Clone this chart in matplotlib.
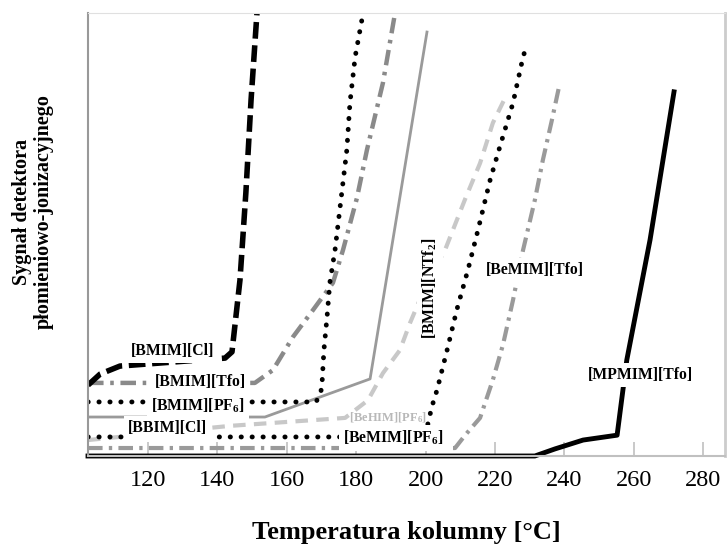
import numpy as np
import matplotlib.pyplot as plt

plt.rcParams['font.family'] = ['Liberation Serif', 'DejaVu Serif']
plt.rcParams['mathtext.fontset'] = 'custom'
plt.rcParams['mathtext.rm'] = 'Liberation Serif:bold'
plt.rcParams['mathtext.it'] = 'Liberation Serif:bold'
plt.rcParams['mathtext.bf'] = 'Liberation Serif:bold'

# ── Data (column temperature [°C] vs FID signal, arbitrary units 0-100) ──────
bmim_cl_t = [102.7, 106.2, 111.9, 142.2, 144.2, 146.5, 148.2, 149.7, 151.4]
bmim_cl_s = [16.0, 18.5, 20.3, 22.1, 23.5, 39.7, 59.4, 80.4, 100.0]

bmim_tfo_t = [102.7, 150.8, 156.0, 161.8, 167.6, 173.3, 176.2, 180.2, 183.1, 187.7, 191.2]
bmim_tfo_s = [16.5, 16.5, 19.4, 26.9, 33.0, 39.1, 46.5, 58.2, 69.1, 84.2, 100.0]

bmim_pf6_t = [102.7, 168.4, 169.6, 170.1, 170.7, 171.6, 172.4, 173.9, 175.6, 177.3, 178.2, 179.7, 182.0]
bmim_pf6_s = [12.2, 12.2, 13.8, 15.6, 23.9, 31.4, 39.1, 46.5, 57.8, 69.1, 79.7, 90.1, 100.0]

bmim_ntf2_t = [102.7, 153.7, 184.0, 200.4]
bmim_ntf2_s = [8.8, 8.8, 17.4, 95.7]

bemim_lt_t = [102.7, 143.6, 176.8, 183.4, 187.7, 192.6, 195.5, 200.4, 205.6, 211.4, 215.7, 219.4, 222.9]
bemim_lt_s = [3.6, 6.8, 8.6, 12.6, 18.7, 23.9, 30.0, 39.1, 46.5, 58.0, 66.1, 75.2, 80.8]

bemim_pf6_t = [102.7, 199.8, 201.8, 203.3, 206.2, 209.0, 212.2, 215.1, 218.6, 221.4, 225.2, 228.1, 229.2]
bemim_pf6_s = [4.3, 4.3, 11.1, 14.9, 23.9, 33.0, 42.0, 51.0, 62.3, 69.8, 79.7, 90.1, 92.8]

bemim_tfo_t = [102.7, 208.5, 211.4, 215.7, 219.4, 222.3, 225.2, 228.1, 231.5, 233.8, 236.4, 238.7]
bemim_tfo_s = [1.8, 1.8, 4.7, 8.6, 17.2, 25.1, 35.2, 46.5, 57.8, 66.8, 75.8, 84.2]

mpmim_tfo_t = [102.7, 231.5, 237.3, 245.4, 255.2, 258.0, 264.7, 271.6]
mpmim_tfo_s = [0.0, 0.0, 1.6, 3.6, 4.7, 21.7, 48.8, 82.2]

x_ticks = [120, 140, 160, 180, 200, 220, 240, 260, 280]

labels = ["[BMIM][Cl]", "[BMIM][Tfo]", "[BMIM][PF$_6$]", "[BBIM][Cl]",
          "[BeMIM][PF$_6$]", "[BMIM][NTf$_2$]", "[BeMIM][Tfo]", "[MPMIM][Tfo]"]
label_t = [127.2, 135.0, 134.4, 125.5, 190.6, 201.3, 231.5, 261.8]
label_s = [23.7, 16.7, 11.3, 6.3, 4.1, 37.9, 42.0, 18.3]
label_rot = [0, 0, 0, 0, 0, 90, 0, 0]

# ── Plot ─────────────────────────────────────────────────────────────────────
fig = plt.figure(figsize=(7.28, 5.44), dpi=100)
ax = fig.add_axes([88 / 728, 88 / 544, 637 / 728, 443 / 544])

DOT = (0, (0.05, 2.2))
DASHDOT = (0, (3.5, 1.5, 0.8, 1.5))
ax.plot(bemim_tfo_t, bemim_tfo_s, color="#9a9a9a", lw=3, ls=DASHDOT)
ax.plot(bemim_lt_t, bemim_lt_s, color="#c8c8c8", lw=3, ls=(0, (3, 2)))
ax.plot(bmim_ntf2_t, bmim_ntf2_s, color="#9a9a9a", lw=2)
ax.plot(bmim_tfo_t, bmim_tfo_s, color="#8a8a8a", lw=3.2, ls=DASHDOT)
ax.plot(bmim_pf6_t, bmim_pf6_s, color="black", lw=3.5, ls=DOT, dash_capstyle="round")
ax.plot(bemim_pf6_t, bemim_pf6_s, color="black", lw=3.5, ls=DOT, dash_capstyle="round")
ax.plot(bmim_cl_t, bmim_cl_s, color="black", lw=4, ls=(0, (3, 1.2)))
ax.plot(mpmim_tfo_t, mpmim_tfo_s, color="black", lw=3.5, clip_on=False)

# faded leftover label from the original scan
ax.text(189.2, 8.6, "[BeHIM][PF$_6$]", fontsize=9, color="#b8b8b8",
        ha="center", va="center", fontweight="bold")

for txt, t, s, r in zip(labels, label_t, label_s, label_rot):
    ax.text(t, s, txt, fontsize=11.3, fontweight="bold", ha="center", va="center",
            rotation=r, bbox=dict(boxstyle="square,pad=0.25", fc="white", ec="none"))

ax.set_xlim(102.7, 286.3)
ax.set_ylim(0, 100)
ax.set_xticks(x_ticks)
ax.set_yticks([])
ax.tick_params(axis="x", direction="in", length=10, width=1.2, color="#c0c0c0",
               labelsize=17.5, pad=10)
ax.spines["left"].set_color("#999999")
ax.spines["left"].set_linewidth(1.5)
ax.spines["top"].set_color("#e0e0e0")
ax.spines["right"].set_color("#cccccc")
ax.spines["right"].set_linewidth(2)
ax.spines["bottom"].set_color("#c0c0c0")
ax.spines["bottom"].set_linewidth(1.5)

ax.set_xlabel("Temperatura kolumny [°C]", fontsize=19, fontweight="bold", labelpad=22)
fig.text(33 / 728, 1 - 212 / 544, "Sygnał detektora\npłomieniowo-jonizacyjnego",
         rotation=90, ha="center", va="center", fontsize=14.5, fontweight="bold",
         linespacing=1.15)

fig.savefig("out.png", dpi=100)
